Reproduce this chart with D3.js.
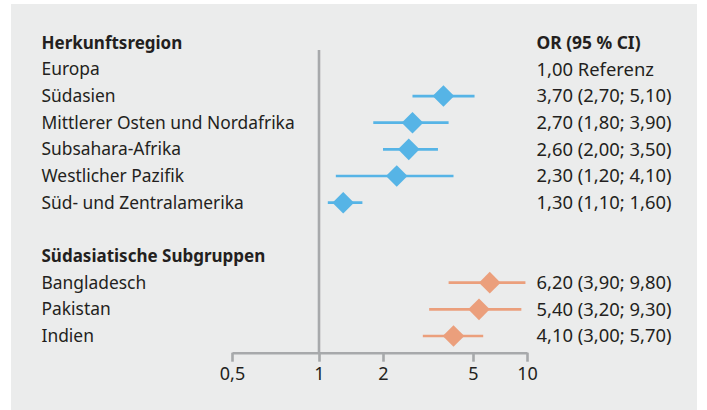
<!DOCTYPE html>
<html>
<head>
<meta charset="utf-8">
<script src="https://cdn.jsdelivr.net/npm/d3@7"></script>
<style>
  body { margin: 0; background: #fff; }
  text { font-family: "Noto Sans", sans-serif; font-size: 17.4px; fill: #231f20; }
  .bold { font-weight: bold; font-size: 17px; }
  .or-label { font-size: 18.4px; }
  .or-label.bold { font-size: 17.4px; }
  .axis path, .axis line { stroke: #a7a9ab; stroke-width: 2.6; }
  .axis text { font-family: "Noto Sans", sans-serif; font-size: 18px; fill: #231f20; }
</style>
</head>
<body>
<div id="chart"></div>
<script>
// Herkunftsregion
const regions = ["Europa", "Südasien", "Mittlerer Osten und Nordafrika", "Subsahara-Afrika", "Westlicher Pazifik", "Süd- und Zentralamerika"];
const regionOR = [1.0, 3.7, 2.7, 2.6, 2.3, 1.3];
const regionLo = [null, 2.7, 1.8, 2.0, 1.2, 1.1];
const regionHi = [null, 5.1, 3.9, 3.5, 4.1, 1.6];

// Südasiatische Subgruppen
const subgroups = ["Bangladesch", "Pakistan", "Indien"];
const subOR = [6.2, 5.4, 4.1];
const subLo = [3.9, 3.2, 3.0];
const subHi = [9.8, 9.3, 5.7];

const tickValues = [0.5, 1, 2, 5, 10];

const width = 707, height = 410;
const blue = "#56b4e6", orange = "#eb9f7c";

const fmt = v => v.toFixed(2).replace(".", ",");

// build rows (header rows + blank row between groups)
let rows = [];
rows.push({ label: "Herkunftsregion", header: true, right: "OR (95 % CI)" });
regions.forEach((r, i) => rows.push({
  label: r, or: regionOR[i], lo: regionLo[i], hi: regionHi[i], color: blue
}));
rows.push({ label: "", blank: true });
rows.push({ label: "Südasiatische Subgruppen", header: true, right: "" });
subgroups.forEach((r, i) => rows.push({
  label: r, or: subOR[i], lo: subLo[i], hi: subHi[i], color: orange
}));
rows.forEach((d, i) => d.idx = i);

const svg = d3.select("#chart").append("svg")
  .attr("width", width)
  .attr("height", height);

// panel background
svg.append("rect")
  .attr("x", 11).attr("y", 4)
  .attr("width", 686).attr("height", 406)
  .attr("fill", "#ebecec");

// scales: tick positions in the original are not evenly logarithmic
const x = d3.scaleLog()
  .domain(tickValues)
  .range([232, 319, 383, 473, 527]);

const y = d3.scaleLinear()
  .domain([0, rows.length - 1])
  .range([42.7, 336]);

const axisY = 352.7;

// axis
const xAxis = d3.axisBottom(x)
  .tickValues(tickValues)
  .tickFormat(d => String(d).replace(".", ","))
  .tickSizeInner(9)
  .tickSizeOuter(0)
  .tickPadding(6);

svg.append("g")
  .attr("class", "axis")
  .attr("transform", `translate(0,${axisY})`)
  .call(xAxis);

// reference line at OR = 1
svg.append("line")
  .attr("x1", x(1)).attr("x2", x(1))
  .attr("y1", 50).attr("y2", axisY)
  .attr("stroke", "#a7a9ab")
  .attr("stroke-width", 2.6);

// left labels
svg.selectAll(".row-label")
  .data(rows.filter(d => !d.blank))
  .join("text")
  .attr("class", d => d.header ? "row-label bold" : "row-label")
  .attr("x", 41.5)
  .attr("y", d => y(d.idx))
  .attr("dy", "0.35em")
  .text(d => d.label);

// right column
svg.selectAll(".or-label")
  .data(rows.filter(d => !d.blank && (d.header ? d.right : true)))
  .join("text")
  .attr("class", d => d.header ? "or-label bold" : "or-label")
  .attr("x", 536.5)
  .attr("y", d => y(d.idx))
  .attr("dy", "0.35em")
  .text(d => {
    if (d.header) return d.right;
    if (d.lo == null) return `${fmt(d.or)} Referenz`;
    return `${fmt(d.or)} (${fmt(d.lo)}; ${fmt(d.hi)})`;
  });

const est = rows.filter(d => d.lo != null);

// CI lines
svg.selectAll(".ci")
  .data(est)
  .join("line")
  .attr("class", "ci")
  .attr("x1", d => x(d.lo))
  .attr("x2", d => x(d.hi))
  .attr("y1", d => y(d.idx))
  .attr("y2", d => y(d.idx))
  .attr("stroke", d => d.color)
  .attr("stroke-width", 2.7);

// diamonds
const r = 10.8;
svg.selectAll(".diamond")
  .data(est)
  .join("path")
  .attr("class", "diamond")
  .attr("transform", d => `translate(${x(d.or)},${y(d.idx)})`)
  .attr("d", `M0,${-r}L${r},0L0,${r}L${-r},0Z`)
  .attr("fill", d => d.color);
</script>
</body>
</html>
